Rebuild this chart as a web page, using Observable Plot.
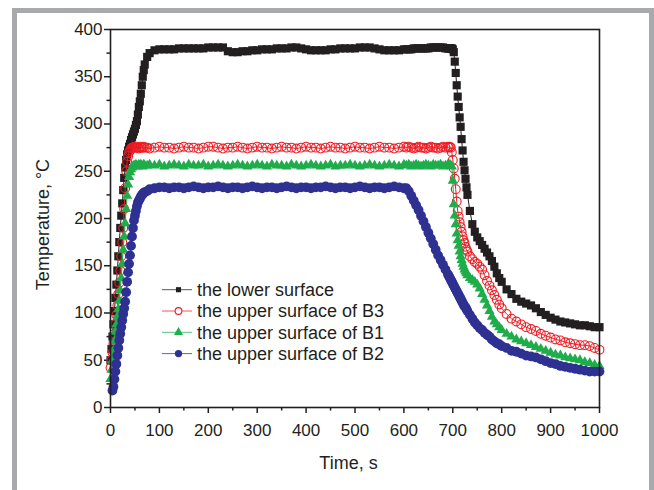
<!DOCTYPE html>
<html><head><meta charset="utf-8">
<script src="https://cdn.jsdelivr.net/npm/d3@7"></script>
<script src="https://cdn.jsdelivr.net/npm/@observablehq/plot@0.6"></script>
<style>
body{margin:0;background:#fff;width:654px;height:490px;overflow:hidden;position:relative;font-family:"Liberation Sans",Arial,sans-serif}
#frame{position:absolute;left:12px;top:8px;width:632px;height:520px;border:5px solid #a7a9ac;background:#fff}
#chart{position:absolute;left:0;top:0}
</style></head><body>
<div id="frame"></div><div id="chart"></div>
<script>
// time, s
const time = [
  0,2,4,6,8,10,12,14,16,18,20,22,24,26,28,30,32,34,36,38,40,42,44,46,48,50,52,54,56,58,60,62,64,66,68,70,
  75,80,90,100,110,120,130,140,150,160,170,180,190,200,210,220,230,240,250,260,270,280,290,300,310,320,330,340,350,360,370,380,390,400,410,420,430,440,450,460,470,480,490,500,510,520,530,540,550,560,570,580,590,600,
  605,610,615,620,625,630,635,640,645,650,655,660,665,670,675,680,685,690,
  692,694,696,698,700,702,704,706,708,710,712,714,716,718,720,722,724,726,728,730,
  735,740,745,750,755,760,765,770,775,780,785,790,795,800,
  810,820,830,840,850,860,870,880,890,900,910,920,930,940,950,960,970,980,990,1000
];
// temperature, °C
const lowerSurface = [
  50,62,75,88,102,116,130,145,160,175,190,203,216,230,243,254,262,268,272,276,279,283,286,289,292,295,299,303,310,318,324,332,341,350,357,363,
  371,375,378,379,379,379,379,380,380,380,380,380,380,381,381,381,381,377,376,376,377,377,378,378,379,379,379,380,380,380,381,381,380,379,378,378,378,378,379,379,380,380,380,380,381,381,381,380,379,378,378,378,378,379,
  379,379,379,380,380,380,380,380,380,380,381,381,381,381,381,381,380,380,
  380,380,380,380,379,376,366,354,341,329,318,307,297,284,272,260,251,242,233,225,
  208,194,186,180,176,172,168,164,160,155,149,142,137,133,
  125,120,115,112,110,108,105,101,98,95,93,91,90,89,88,87,87,86,85,85
];
const upperB3 = [
  42,50,58,68,78,88,98,108,120,132,145,160,175,190,210,232,250,260,266,270,272,274,275,275,276,275,275,276,275,274,275,276,275,275,276,275,
  275,274,
  275,276,275,275,274,275,276,275,275,274,
  275,276,276,275,274,275,275,276,275,274,
  275,276,275,275,274,275,276,275,275,274,
  275,276,275,275,274,275,276,275,275,274,
  275,276,275,275,274,275,276,275,275,274,
  275,276,
  275,276,275,274,275,276,275,275,274,275,276,275,275,274,275,276,275,276,
  275,276,275,270,262,253,242,231,218,208,202,196,191,186,181,177,174,170,167,165,
  160,157,154,152,149,146,140,134,129,124,119,114,109,105,
  99,94,91,88,85,83,81,78,76,74,72,71,69,68,67,66,66,65,63,61
];
const upperB1 = [
  30,40,50,60,70,80,88,96,104,113,124,137,152,167,181,195,210,224,236,244,249,252,254,255,256,256,257,256,255,257,256,257,256,255,257,256,
  256,257,
  256,257,255,256,257,256,255,257,256,256,
  257,255,256,257,256,255,256,257,256,255,
  256,257,256,255,257,256,256,255,257,256,
  255,256,257,256,255,256,257,255,256,256,
  257,256,255,256,257,256,255,256,257,256,
  255,257,
  256,257,255,256,257,256,255,256,257,256,255,257,256,256,257,255,256,257,
  256,257,256,255,240,215,203,194,184,177,171,165,160,156,152,149,146,144,142,140,
  137,135,133,130,126,120,114,108,102,96,91,88,85,82,
  78,75,72,70,68,66,64,62,60,58,56,55,53,52,51,50,48,47,45,44
];
const upperB2 = [
  null,null,18,22,30,38,46,55,63,71,78,85,92,99,105,112,122,133,143,152,161,171,181,190,198,203,208,213,217,219,221,223,225,226,227,228,
  229,231,232,233,
  233,232,233,233,232,233,234,233,232,233,
  233,234,233,232,233,233,232,233,234,233,
  232,233,233,232,233,234,233,232,233,233,
  232,233,233,234,233,232,233,233,232,233,
  234,233,232,233,233,232,233,234,233,232,
  232,229,224,219,214,209,203,197,191,185,179,173,167,161,156,151,146,141,
  139,137,135,133,131,129,127,125,123,121,119,117,115,113,111,109,107,106,104,102,
  98,94,90,87,84,82,79,77,75,72,70,68,67,65,
  63,60,59,57,55,54,53,51,49,47,46,44,43,42,41,40,39,38,38,38
];
const seriesNames = ["the lower surface", "the upper surface of B3", "the upper surface of B1", "the upper surface of B2"];
const xTicks = [0,100,200,300,400,500,600,700,800,900,1000];
const xMinorTicks = [50,150,250,350,450,550,650,750,850,950];
const yTicks = [0,50,100,150,200,250,300,350,400];
const yMinorTicks = [25,75,125,175,225,275,325,375];

const ink = "#231f20";
const colors = ["#231f20", "#ed1c24", "#1fad4b", "#2e3192"];
const seriesValues = [lowerSurface, upperB3, upperB1, upperB2];
const symbols = ["square", "circle", "triangle", "circle"];
const radius = [4.6, 4.4, 3.8, 4.9];

const tables = seriesValues.map((vals) => time.map((t, i) => ({t, v: vals[i]})).filter(d => d.v != null));

const marks = [
  Plot.axisY({ticks: yTicks, tickSize: 6, tickPadding: 2, label: null, tickFormat: d => String(d), stroke: ink, strokeWidth: 1.5, fill: ink}),
  Plot.axisY({ticks: yMinorTicks, tickSize: 3.5, label: null, tickFormat: () => "", stroke: ink, strokeWidth: 1.5}),
  Plot.axisX({ticks: xTicks, tickSize: 6, tickPadding: 10, label: null, tickFormat: d => String(d), stroke: ink, strokeWidth: 1.5, fill: ink}),
  Plot.axisX({ticks: xMinorTicks, tickSize: 3.5, label: null, tickFormat: () => "", stroke: ink, strokeWidth: 1.5})
];
tables.forEach((data, s) => {
  marks.push(Plot.line(data, {x: "t", y: "v", stroke: colors[s], strokeWidth: 1}));
  if (s === 1) {
    marks.push(Plot.dot(data, {x: "t", y: "v", symbol: symbols[s], r: radius[s], stroke: colors[s], fill: "none", strokeWidth: 1.1}));
  } else {
    marks.push(Plot.dot(data, {x: "t", y: "v", symbol: symbols[s], r: radius[s], fill: colors[s], stroke: "none"}));
  }
});
marks.push(Plot.frame({stroke: ink, strokeWidth: 1.6}));
marks.push(Plot.text(["Temperature, °C"], {frameAnchor: "left", rotate: -90, dx: -67.5, dy: 6, fontSize: 18, fill: ink, textAnchor: "middle", lineAnchor: "middle"}));
marks.push(Plot.text(["Time, s"], {frameAnchor: "bottom", dx: -6.5, dy: 55.5, fontSize: 18, fill: ink, textAnchor: "middle", lineAnchor: "middle"}));

const chart = Plot.plot({
  width: 654, height: 490,
  marginLeft: 110, marginRight: 55, marginTop: 29, marginBottom: 83,
  x: {domain: [0, 1000], label: null},
  y: {domain: [0, 400], label: null},
  style: {background: "none", fontFamily: "'Liberation Sans', Arial, sans-serif", fontSize: "17px", color: ink, overflow: "visible"},
  marks
});
document.getElementById("chart").appendChild(chart);

// legend
const svgEl = chart.tagName.toLowerCase() === "svg" ? chart : chart.querySelector("svg");
const g = d3.select(svgEl).append("g")
  .attr("font-family", "'Liberation Sans', Arial, sans-serif")
  .attr("font-size", 18).attr("fill", ink).attr("text-anchor", "start");
const legendSyms = [d3.symbolSquare, d3.symbolCircle, d3.symbolTriangle, d3.symbolCircle];
const legendSizes = [26, 36, 36, 42];
seriesNames.forEach((name, i) => {
  const y = 289.7 + i * 21.3;
  g.append("line").attr("x1", 162).attr("x2", 192).attr("y1", y).attr("y2", y)
    .attr("stroke", colors[i]).attr("stroke-width", 1).attr("stroke-opacity", 0.75);
  const p = g.append("path").attr("transform", `translate(178.5,${y})`).attr("d", d3.symbol(legendSyms[i], legendSizes[i])());
  if (i === 1) p.attr("fill", "#fff").attr("stroke", colors[i]).attr("stroke-width", 1.1);
  else p.attr("fill", colors[i]);
  g.append("text").attr("x", 197).attr("y", y).attr("dy", "0.35em").attr("text-anchor", "start").text(name);
});
</script>
</body></html>
